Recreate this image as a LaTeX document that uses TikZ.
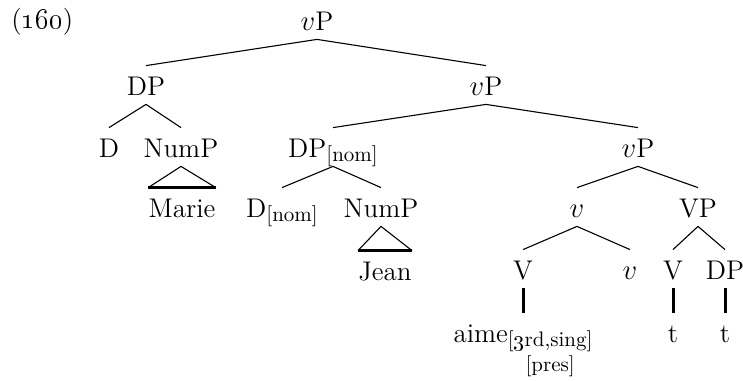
\documentclass[tikz,border=0pt]{standalone}
\usepackage{amsmath}
\usepackage{tikz}
\usetikzlibrary{positioning}
\tikzset{
  lab/.style={anchor=base,inner sep=0pt,text height=14.5pt,text depth=4.5pt,font=\fontsize{13.5}{16}\selectfont},
  br/.style={line width=0.55pt},
  trc/.style={line width=1.5pt},
  roofbase/.style={line width=1.6pt},
}
\newcommand{\lv}{$v$}
\newcommand{\feat}[1]{\raisebox{-2pt}{\fontsize{10.5}{12.5}\selectfont #1}}

\begin{document}
\begin{tikzpicture}[x=0.5pt,y=-0.5pt]
\useasboundingbox (0,0) rectangle (743,380);
\node[lab, anchor=base west] (ex) at (11,28) {(\oldstylenums{160})};
\node[lab] (vP1) at (317,30) {\lv P};
\node[lab] (DP1) at (146,95) {DP};
\node[lab] (vP2) at (486,95) {\lv P};
\node[lab] (D1) at (109,157) {D};
\node[lab] (NumP1) at (181,157) {NumP};
\node[lab] (DP2) at (333,157) {DP\feat{[nom]}};
\node[lab] (vP3) at (638,157) {\lv P};
\node[lab] (marie) at (182,217) {Marie};
\node[lab] (D2) at (282,217) {D\feat{[nom]}};
\node[lab] (NumP2) at (381,217) {NumP};
\node[lab] (v1) at (577,217) {\lv};
\node[lab] (VP) at (698,217) {VP};
\node[lab] (jean) at (385,280) {Jean};
\node[lab] (V1) at (523,279) {V};
\node[lab] (v2) at (630,279) {\lv};
\node[lab] (V2) at (673,279) {V};
\node[lab] (DP3) at (725,279) {DP};
\node[lab] (aime) at (523,342) {aime\feat{\begin{tabular}[t]{@{}c@{}}[\oldstylenums{3}rd,sing]\\{}[pres]\end{tabular}}};
\node[lab] (t1) at (673,342) {t};
\node[lab] (t2) at (725,342) {t};
\draw[br] (vP1.south) -- (DP1.north);
\draw[br] (vP1.south) -- (vP2.north);
\draw[br] (DP1.south) -- (D1.north);
\draw[br] (DP1.south) -- (NumP1.north);
\draw[br] (vP2.south) -- (DP2.north);
\draw[br] (vP2.south) -- (vP3.north);
\draw[br] (DP2.south) -- (D2.north);
\draw[br] (DP2.south) -- (NumP2.north);
\draw[br] (vP3.south) -- (v1.north);
\draw[br] (vP3.south) -- (VP.north);
\draw[br] (v1.south) -- (V1.north);
\draw[br] (v1.south) -- (v2.north);
\draw[br] (VP.south) -- (V2.north);
\draw[br] (VP.south) -- (DP3.north);
\draw[br] (marie.north west) -- (NumP1.south) -- (marie.north east);
\draw[roofbase] (marie.north west) -- (marie.north east);
\draw[br] (jean.north west) -- (NumP2.south) -- (jean.north east);
\draw[roofbase] (jean.north west) -- (jean.north east);
\draw[trc] (V1.south) -- (V1.south |- aime.north);
\draw[trc] (V2.south) -- (t1.north);
\draw[trc] (DP3.south) -- (t2.north);
\end{tikzpicture}
\end{document}
